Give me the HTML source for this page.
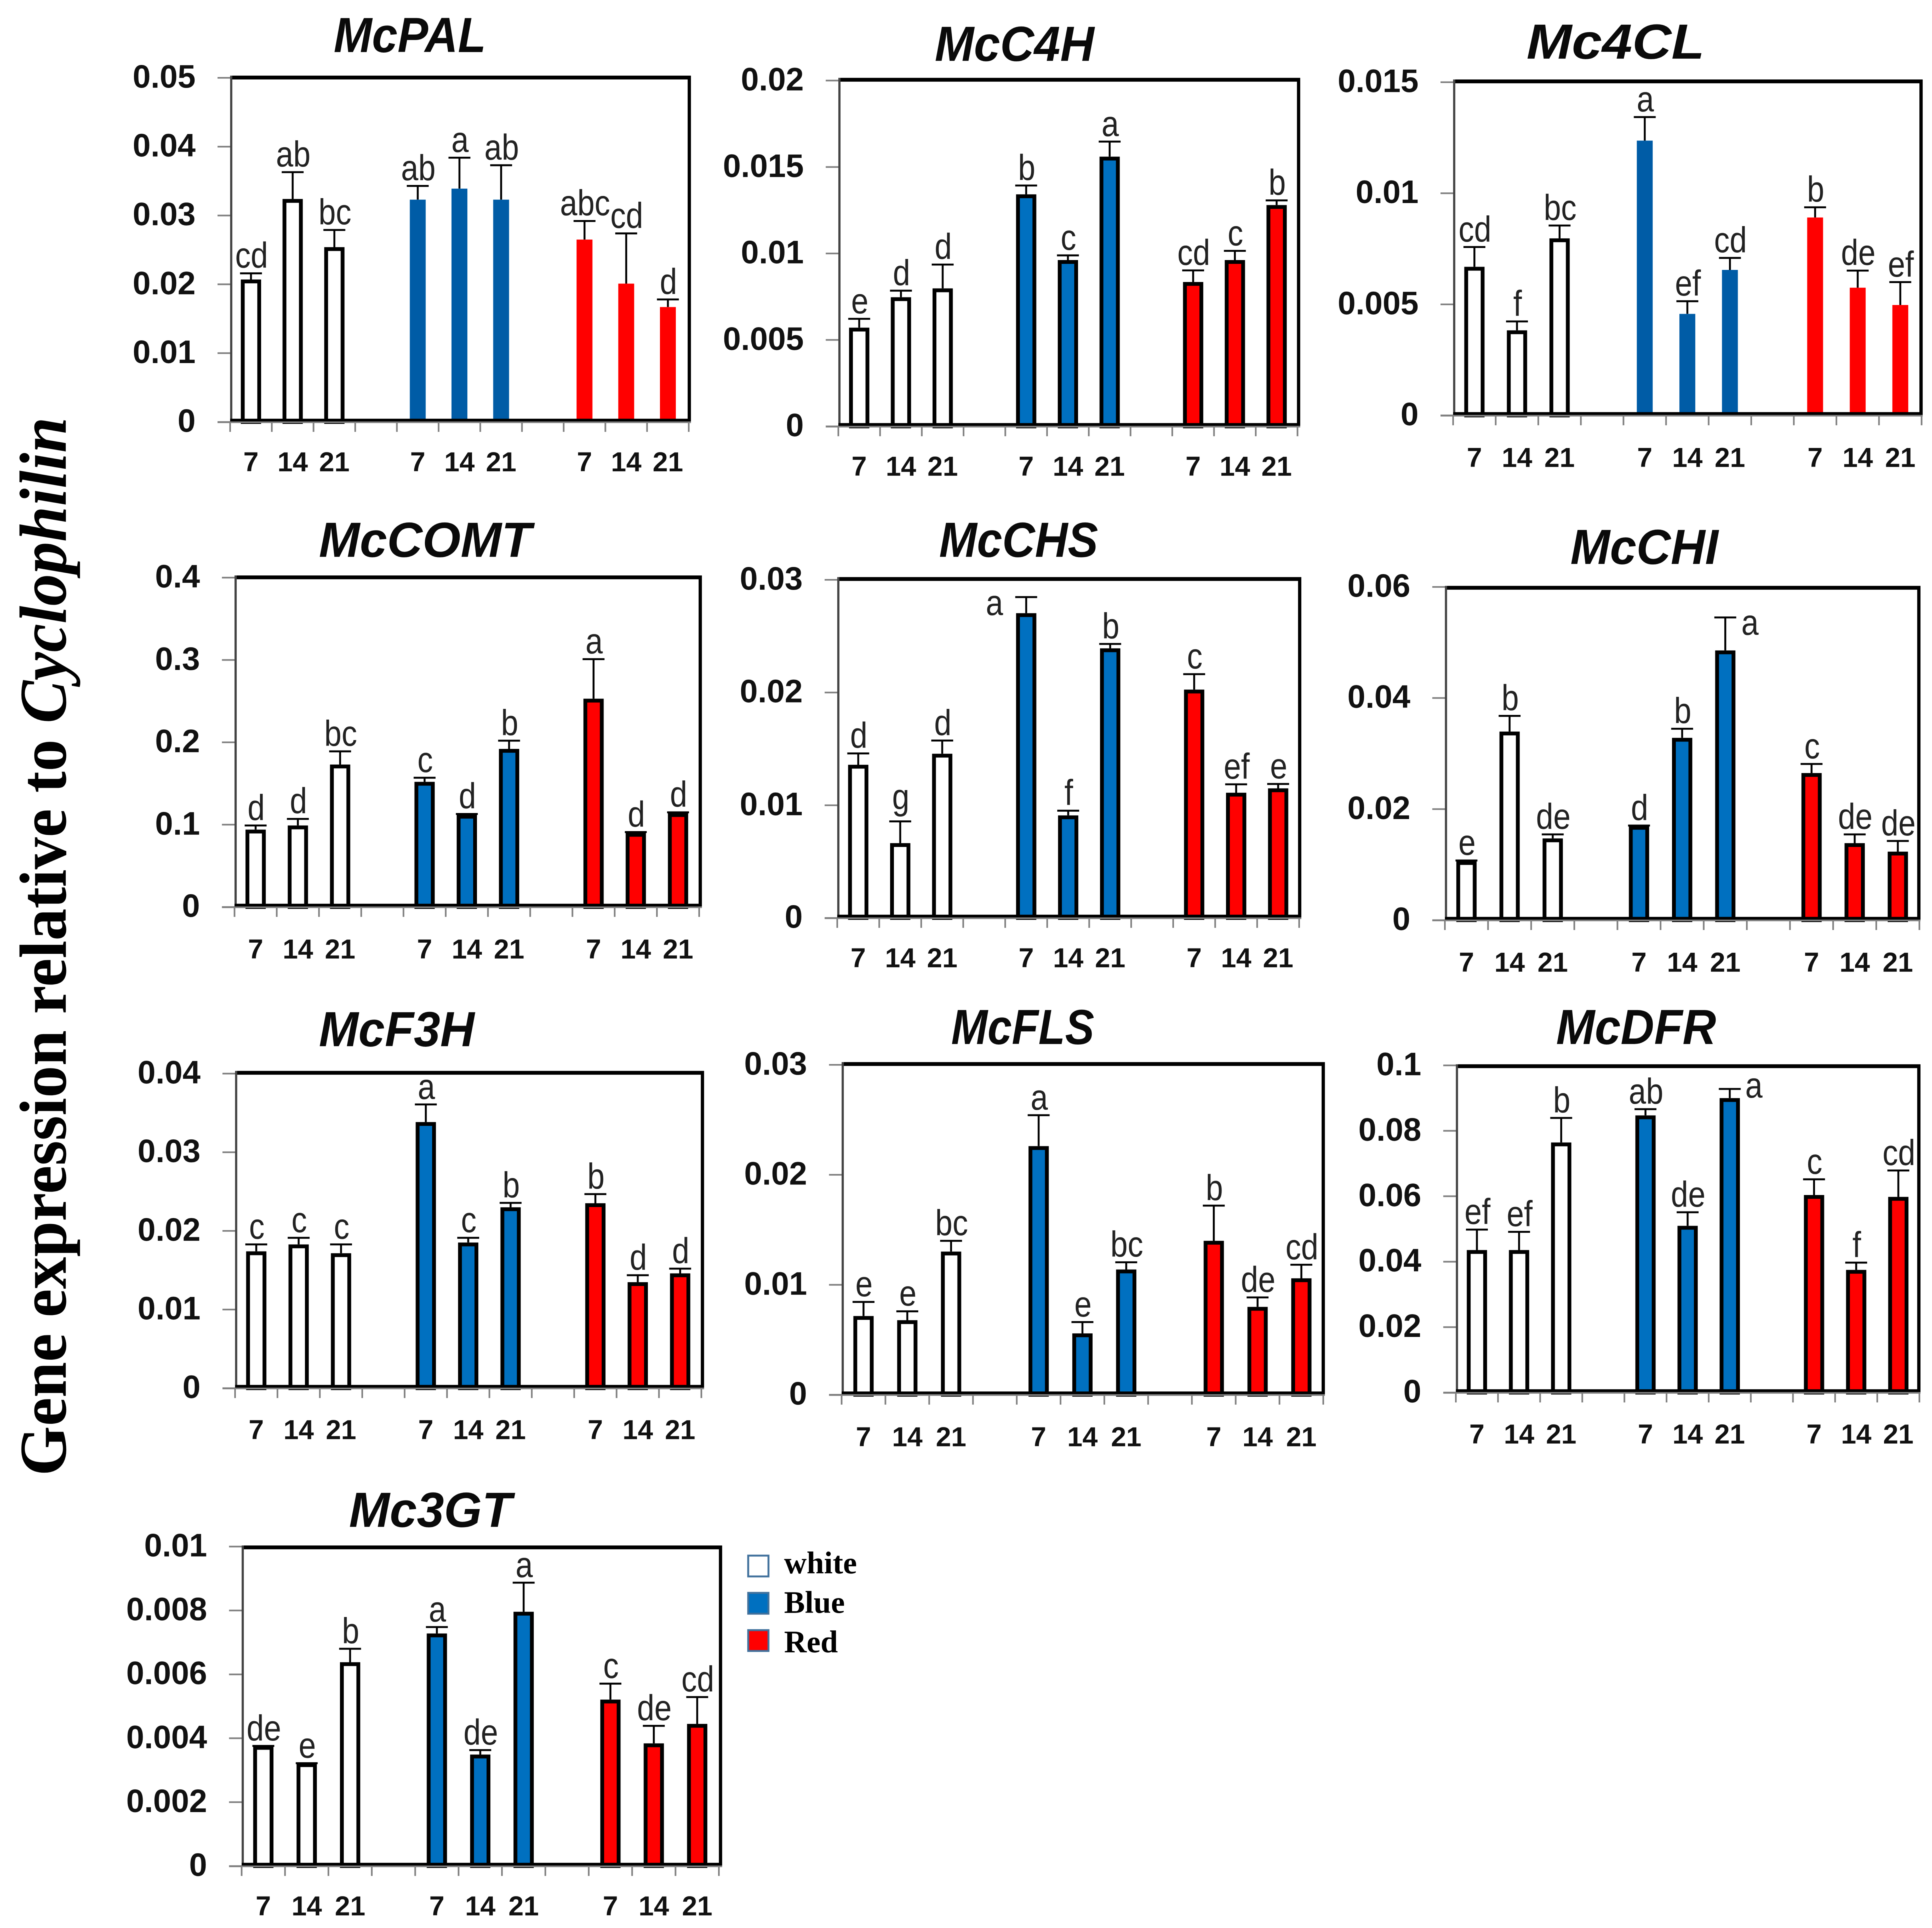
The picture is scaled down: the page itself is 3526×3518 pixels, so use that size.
<!DOCTYPE html>
<html lang="en">
<head>
<meta charset="utf-8">
<title>Gene expression relative to Cyclophilin</title>
<style>
html,body{margin:0;padding:0;background:#fff;width:3526px;height:3518px;overflow:hidden}
svg{display:block;filter:blur(0.8px)}
text{font-family:"Liberation Sans",Arial,sans-serif}
.tick{font-weight:700;font-size:59px;fill:#111}
.xl{font-weight:700;font-size:50px;fill:#111}
.ltr{font-weight:400;font-size:66px;fill:#222}
.ttl{font-weight:700;font-style:italic;font-size:90px;fill:#0a0a0a}
.serif{font-family:"Liberation Serif","Times New Roman",serif;font-weight:700;fill:#000}
</style>
</head>
<body>
<svg id="fig" xmlns="http://www.w3.org/2000/svg" width="3526" height="3518" viewBox="0 0 3526 3518">
  <rect x="0" y="0" width="3526" height="3518" fill="#ffffff"/>
  <text class="serif" transform="translate(120,2693) rotate(-90)" font-size="122" textLength="1932" lengthAdjust="spacingAndGlyphs">Gene expression relative to <tspan font-style="italic">Cyclophilin</tspan></text>
  <g>
    <rect x="1365.5" y="2838.5" width="37" height="38" fill="#ffffff" stroke="#41719c" stroke-width="3.5"/>
    <text class="serif" x="1431" y="2871" font-size="57">white</text>
    <rect x="1365.5" y="2906.5" width="37" height="38" fill="#0070c0" stroke="#41719c" stroke-width="3.5"/>
    <text class="serif" x="1431" y="2943" font-size="57">Blue</text>
    <rect x="1365.5" y="2974.5" width="37" height="38" fill="#ff0000" stroke="#41719c" stroke-width="3.5"/>
    <text class="serif" x="1431" y="3015" font-size="57">Red</text>
  </g>
</svg>
<script>
// Shared categories
const days = ['7', '14', '21'];
const groups = ['white', 'blue', 'red'];

// McPAL
const palTicks = ['0', '0.01', '0.02', '0.03', '0.04', '0.05'];
const palValues = [0.0207, 0.0324, 0.0254, 0.0323, 0.0339, 0.0323, 0.0265, 0.0201, 0.0167];
const palUpper = [0.0216, 0.0363, 0.0279, 0.0343, 0.0384, 0.0373, 0.0292, 0.0274, 0.0178];
const palLetters = ['cd', 'ab', 'bc', 'ab', 'a', 'ab', 'abc', 'cd', 'd'];

// McC4H
const c4hTicks = ['0', '0.005', '0.01', '0.015', '0.02'];
const c4hValues = [0.00571, 0.00747, 0.00798, 0.01342, 0.00962, 0.0156, 0.00835, 0.00962, 0.0128];
const c4hUpper = [0.00622, 0.00785, 0.00936, 0.01393, 0.00989, 0.01647, 0.00902, 0.01015, 0.01307];
const c4hLetters = ['e', 'd', 'd', 'b', 'c', 'a', 'cd', 'c', 'b'];

// Mc4CL
const cl4Ticks = ['0', '0.005', '0.01', '0.015'];
const cl4Values = [0.00669, 0.00383, 0.00797, 0.01237, 0.00457, 0.00655, 0.00891, 0.00575, 0.00497];
const cl4Upper = [0.00758, 0.00423, 0.00855, 0.01343, 0.00514, 0.00709, 0.00937, 0.00652, 0.006];
const cl4Letters = ['cd', 'f', 'bc', 'a', 'ef', 'cd', 'b', 'de', 'ef'];

// McCOMT
const comtTicks = ['0', '0.1', '0.2', '0.3', '0.4'];
const comtValues = [0.094, 0.099, 0.173, 0.152, 0.112, 0.192, 0.253, 0.09, 0.114];
const comtUpper = [0.099, 0.107, 0.189, 0.157, 0.113, 0.202, 0.301, 0.091, 0.115];
const comtLetters = ['d', 'd', 'bc', 'c', 'd', 'b', 'a', 'd', 'd'];

// McCHS
const chsTicks = ['0', '0.01', '0.02', '0.03'];
const chsValues = [0.01359, 0.00664, 0.01457, 0.02704, 0.0091, 0.02392, 0.02026, 0.01111, 0.0115];
const chsUpper = [0.0146, 0.00857, 0.01574, 0.02847, 0.00952, 0.02431, 0.02163, 0.01186, 0.01189];
const chsLetters = ['d', 'g', 'd', 'a', 'f', 'b', 'c', 'ef', 'e'];

// McCHI
const chiTicks = ['0', '0.02', '0.04', '0.06'];
const chiValues = [0.01064, 0.03396, 0.01472, 0.01698, 0.03283, 0.04857, 0.02649, 0.01387, 0.01234];
const chiUpper = [0.01074, 0.03679, 0.01545, 0.01704, 0.03447, 0.05451, 0.02813, 0.01545, 0.01426];
const chiLetters = ['e', 'b', 'de', 'd', 'b', 'a', 'c', 'de', 'de'];

// McF3H
const f3hTicks = ['0', '0.01', '0.02', '0.03', '0.04'];
const f3hValues = [0.0174, 0.01828, 0.01716, 0.03384, 0.01852, 0.023, 0.02352, 0.01348, 0.0146];
const f3hUpper = [0.01828, 0.01912, 0.01828, 0.03608, 0.01912, 0.02356, 0.02468, 0.01436, 0.0152];
const f3hLetters = ['c', 'c', 'c', 'a', 'c', 'b', 'b', 'd', 'd'];

// McFLS
const flsTicks = ['0', '0.01', '0.02', '0.03'];
const flsValues = [0.00716, 0.00678, 0.01302, 0.02261, 0.00558, 0.01139, 0.014, 0.00799, 0.01059];
const flsUpper = [0.00844, 0.00759, 0.014, 0.02542, 0.00661, 0.01205, 0.0172, 0.00885, 0.01182];
const flsLetters = ['e', 'e', 'bc', 'a', 'e', 'bc', 'b', 'de', 'cd'];

// McDFR
const dfrTicks = ['0', '0.02', '0.04', '0.06', '0.08', '0.1'];
const dfrValues = [0.04356, 0.04356, 0.07644, 0.08471, 0.05096, 0.09, 0.06038, 0.0375, 0.05981];
const dfrUpper = [0.04981, 0.04913, 0.08394, 0.08663, 0.0551, 0.09279, 0.06519, 0.03971, 0.06788];
const dfrLetters = ['ef', 'ef', 'b', 'ab', 'de', 'a', 'c', 'f', 'cd'];

// Mc3GT
const gtTicks = ['0', '0.002', '0.004', '0.006', '0.008', '0.01'];
const gtValues = [0.00376, 0.00322, 0.00638, 0.00728, 0.00349, 0.00796, 0.00521, 0.00384, 0.00445];
const gtUpper = [0.00376, 0.00322, 0.0068, 0.00748, 0.00363, 0.00887, 0.00571, 0.00439, 0.00529];
const gtLetters = ['de', 'e', 'b', 'a', 'de', 'a', 'c', 'de', 'cd'];

const panels = [
  {title:'McPAL', ticks:palTicks, values:palValues, upper:palUpper, letters:palLetters, xL:420, xR:1257, yTop:142, y0:770, frameTop:141, frameRight:1258, titleX:609, titleW:278, titleY:95, xlabY:860, outlined:false, blue:'#005ca6', side:null},
  {title:'McC4H', ticks:c4hTicks, values:c4hValues, upper:c4hUpper, letters:c4hLetters, xL:1530, xR:2368, yTop:147, y0:778, frameTop:145, frameRight:2370, titleX:1706, titleW:291, titleY:111, xlabY:868, outlined:true, blue:'#0070c0', side:null},
  {title:'Mc4CL', ticks:cl4Ticks, values:cl4Values, upper:cl4Upper, letters:cl4Letters, xL:2652, xR:3507, yTop:150, y0:758, frameTop:148, frameRight:3506, titleX:2786, titleW:325, titleY:107, xlabY:852, outlined:false, blue:'#005ca6', side:null},
  {title:'McCOMT', ticks:comtTicks, values:comtValues, upper:comtUpper, letters:comtLetters, xL:428, xR:1276, yTop:1054, y0:1655, frameTop:1053, frameRight:1278, titleX:582, titleW:388, titleY:1016, xlabY:1749, outlined:true, blue:'#0070c0', side:null},
  {title:'McCHS', ticks:chsTicks, values:chsValues, upper:chsUpper, letters:chsLetters, xL:1528, xR:2371, yTop:1058, y0:1675, frameTop:1056, frameRight:2372, titleX:1714, titleW:290, titleY:1016, xlabY:1765, outlined:true, blue:'#0070c0', side:{index:3, dx:-58, dy:33}},
  {title:'McCHI', ticks:chiTicks, values:chiValues, upper:chiUpper, letters:chiLetters, xL:2637, xR:3503, yTop:1071, y0:1679, frameTop:1072, frameRight:3502, titleX:2866, titleW:270, titleY:1029, xlabY:1773, outlined:true, blue:'#0070c0', side:{index:5, dx:45, dy:32}},
  {title:'McF3H', ticks:f3hTicks, values:f3hValues, upper:f3hUpper, letters:f3hLetters, xL:429, xR:1280, yTop:1959, y0:2533, frameTop:1957, frameRight:1282, titleX:582, titleW:284, titleY:1909, xlabY:2626, outlined:true, blue:'#0070c0', side:null},
  {title:'McFLS', ticks:flsTicks, values:flsValues, upper:flsUpper, letters:flsLetters, xL:1536, xR:2415, yTop:1943, y0:2545, frameTop:1941, frameRight:2415, titleX:1736, titleW:261, titleY:1905, xlabY:2639, outlined:true, blue:'#0070c0', side:null},
  {title:'McDFR', ticks:dfrTicks, values:dfrValues, upper:dfrUpper, letters:dfrLetters, xL:2657, xR:3503, yTop:1944, y0:2541, frameTop:1945, frameRight:3502, titleX:2840, titleW:292, titleY:1905, xlabY:2634, outlined:true, blue:'#0070c0', side:{index:5, dx:44, dy:16}},
  {title:'Mc3GT', ticks:gtTicks, values:gtValues, upper:gtUpper, letters:gtLetters, xL:441, xR:1312, yTop:2822, y0:3405, frameTop:2823, frameRight:1315, titleX:637, titleW:297, titleY:2786, xlabY:3495, outlined:true, blue:'#0070c0', side:null}
];

const NS = 'http://www.w3.org/2000/svg';
const svg = document.getElementById('fig');

function mk(tag, attrs, parent) {
  const el = document.createElementNS(NS, tag);
  for (const k in attrs) el.setAttribute(k, attrs[k]);
  parent.appendChild(el);
  return el;
}

function drawPanel(p) {
  const slug = p.title.toLowerCase();
  const g = mk('g', {}, svg);
  
  

  const maxTick = parseFloat(p.ticks[p.ticks.length - 1]);
  const slotW = (p.xR - p.xL) / 11;
  const yScale = function (v) { return p.y0 - (v / maxTick) * (p.y0 - p.yTop); };
  const xScale = function (slot) { return p.xL + (slot + 0.5) * slotW; };
  const slotOf = function (i) { return Math.floor(i / 3) * 4 + (i % 3); };

  const title = mk('text', {x: p.titleX, y: p.titleY, 'class': 'ttl', textLength: p.titleW, lengthAdjust: 'spacingAndGlyphs'}, g);
  title.textContent = p.title;
  
  

  p.values.forEach(function (v, i) {
    const cx = xScale(slotOf(i));
    const groupName = groups[Math.floor(i / 3)];
    const dayName = days[i % 3];
    const yBar = yScale(v);
    const yErr = yScale(p.upper[i]);

    const stem = mk('line', {x1: cx, x2: cx, y1: yBar, y2: yErr, stroke: '#000', 'stroke-width': 3.5}, g);
    
    

    const cap = mk('line', {x1: cx - 20, x2: cx + 20, y1: yErr, y2: yErr, stroke: '#000', 'stroke-width': 3.5}, g);
    
    

    const isWhite = groupName === 'white';
    const fill = isWhite ? '#ffffff' : (groupName === 'blue' ? p.blue : '#ff0000');
    const stroked = isWhite || p.outlined;
    const w = stroked ? 37 : 29;
    const sw = 7;
    const attrs = stroked
      ? {x: cx - w / 2 + sw / 2, y: yBar + sw / 2, width: w - sw, height: Math.max(0, p.y0 - yBar - sw / 2), fill: fill, stroke: '#000', 'stroke-width': sw}
      : {x: cx - w / 2, y: yBar, width: w, height: Math.max(0, p.y0 - yBar), fill: fill};
    const bar = mk('rect', attrs, g);
    
    

    const isSide = p.side && p.side.index === i;
    const lift = p.letters[i].indexOf('g') >= 0 ? 22 : 10;
    const lx = isSide ? cx + p.side.dx : cx + 1;
    const ly = isSide ? yErr + p.side.dy : yErr - lift;
    const letter = mk('text', {'class': 'ltr', 'text-anchor': 'middle', transform: 'translate(' + lx + ',' + ly + ') scale(0.86,1)'}, g);
    letter.textContent = p.letters[i];
    
    

    const xlab = mk('text', {x: cx, y: p.xlabY, 'class': 'xl', 'text-anchor': 'middle'}, g);
    xlab.textContent = dayName;
    
    
  });

  // Frame
  const top = mk('rect', {x: p.xL, y: p.frameTop - 3, width: p.frameRight - p.xL + 3, height: 7, fill: '#000'}, g);
  
  

  const right = mk('rect', {x: p.frameRight - 3, y: p.frameTop - 3, width: 6, height: p.y0 - p.frameTop + 3, fill: '#000'}, g);
  
  

  const left = mk('rect', {x: p.xL, y: p.frameTop - 3, width: 4, height: p.y0 - p.frameTop + 3, fill: '#444'}, g);
  
  

  const bottom = mk('rect', {x: p.xL, y: p.y0 - 6, width: p.frameRight - p.xL + 3, height: 6, fill: '#000'}, g);
  
  

  const xAxis = mk('rect', {x: p.xL - 23, y: p.y0 - 1, width: p.frameRight - p.xL + 26, height: 3, fill: '#808080'}, g);
  
  

  // Y ticks
  p.ticks.forEach(function (t) {
    const y = yScale(parseFloat(t));
    const tick = mk('line', {x1: p.xL - 23, x2: p.xL, y1: y, y2: y, stroke: '#808080', 'stroke-width': 3}, g);
    
    

    const lab = mk('text', {x: p.xL - 63, y: y + 18, 'class': 'tick', 'text-anchor': 'end'}, g);
    lab.textContent = t;
    
    
  });

  // X ticks
  for (let s = 0; s <= 11; s++) {
    const x = p.xL + s * slotW;
    const tick = mk('line', {x1: x, x2: x, y1: p.y0, y2: p.y0 + 18, stroke: '#808080', 'stroke-width': 3}, g);
    
    
  }
}

panels.forEach(drawPanel);
</script>
</body>
</html>
